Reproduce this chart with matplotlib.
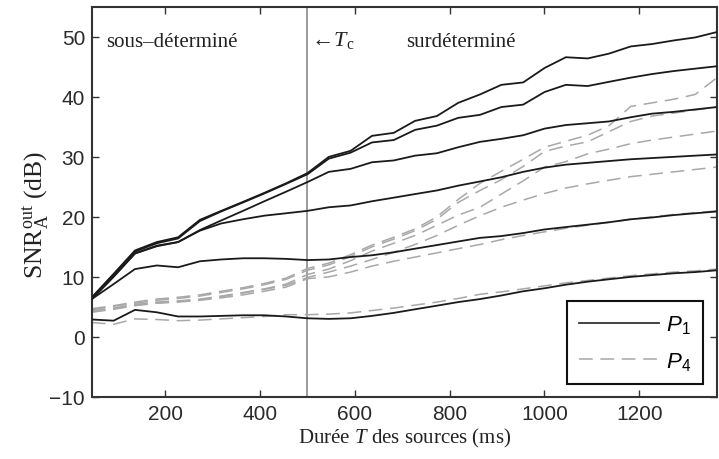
import matplotlib
matplotlib.use("Agg")
import matplotlib.pyplot as plt
from matplotlib.lines import Line2D

plt.rcParams['mathtext.fontset'] = 'custom'
plt.rcParams['mathtext.rm'] = 'Liberation Serif'
plt.rcParams['mathtext.it'] = 'Liberation Serif:italic'
plt.rcParams['mathtext.sf'] = 'Liberation Sans'
plt.rcParams['mathtext.bf'] = 'Liberation Sans:italic'

# Durée T des sources (ms)
T = [45, 91, 136, 182, 227, 273, 318, 364, 409, 455, 500, 545, 591, 636, 682,
     727, 773, 818, 864, 909, 955, 1000, 1045, 1091, 1136, 1182, 1227, 1273, 1318, 1364]

# P1 (solid) curves
p1_a = [6.6, 10.5, 14.4, 15.8, 16.6, 19.5, 21.0, 22.5, 24.0, 25.6, 27.3, 30.0, 31.0, 33.5, 34.0,
        36.0, 36.8, 39.0, 40.4, 42.0, 42.4, 44.8, 46.6, 46.4, 47.2, 48.4, 48.8, 49.4, 49.9, 50.8]
p1_b = [6.5, 10.4, 14.2, 15.6, 16.4, 19.3, 20.9, 22.4, 23.9, 25.5, 27.1, 29.7, 30.7, 32.4, 32.8,
        34.5, 35.2, 36.5, 37.0, 38.3, 38.7, 40.8, 42.0, 41.8, 42.5, 43.2, 43.8, 44.3, 44.7, 45.1]
p1_c = [6.3, 10.1, 13.9, 15.2, 15.8, 17.8, 19.4, 21.0, 22.6, 24.2, 25.8, 27.5, 28.0, 29.1, 29.4,
        30.2, 30.6, 31.6, 32.5, 33.0, 33.6, 34.7, 35.3, 35.6, 35.9, 36.6, 37.2, 37.5, 37.9, 38.3]
p1_d = [6.3, 10.0, 13.9, 15.1, 15.8, 17.7, 18.9, 19.6, 20.2, 20.6, 21.0, 21.6, 21.9, 22.6, 23.2,
        23.8, 24.4, 25.2, 25.9, 26.6, 27.5, 28.2, 28.7, 29.0, 29.3, 29.6, 29.8, 30.0, 30.2, 30.4]
p1_e = [6.3, 8.8, 11.3, 11.9, 11.6, 12.6, 12.9, 13.1, 13.1, 13.0, 12.8, 12.9, 13.3, 13.6, 14.1,
        14.7, 15.3, 15.9, 16.5, 16.8, 17.3, 17.9, 18.3, 18.7, 19.1, 19.6, 19.9, 20.3, 20.6, 20.9]
p1_f = [2.9, 2.7, 4.5, 4.1, 3.4, 3.4, 3.5, 3.6, 3.6, 3.4, 3.1, 3.0, 3.1, 3.5, 4.0,
        4.6, 5.2, 5.8, 6.3, 6.9, 7.6, 8.1, 8.7, 9.2, 9.6, 10.0, 10.3, 10.6, 10.8, 11.1]

# P4 (dashed) curves
p4_a = [4.7, 5.2, 5.8, 6.3, 6.6, 7.0, 7.6, 8.2, 8.9, 9.8, 11.4, 12.3, 13.7, 15.3, 16.6,
        18.0, 20.0, 22.9, 25.6, 27.6, 29.6, 31.6, 32.6, 33.6, 35.2, 38.4, 39.0, 39.6, 40.4, 43.2]
p4_b = [4.5, 5.1, 5.6, 6.1, 6.4, 6.8, 7.4, 8.0, 8.7, 9.6, 11.1, 12.0, 13.4, 15.0, 16.3,
        17.7, 19.6, 22.4, 24.4, 26.2, 28.4, 30.9, 31.8, 32.5, 34.2, 35.9, 36.8, 37.3, 37.8, 38.3]
p4_c = [4.3, 4.8, 5.4, 5.8, 6.0, 6.3, 6.8, 7.4, 8.0, 8.8, 10.4, 11.3, 12.7, 14.3, 15.6,
        16.9, 18.6, 20.3, 21.6, 23.8, 26.0, 28.3, 29.2, 30.5, 31.3, 32.2, 32.8, 33.3, 33.8, 34.3]
p4_d = [4.2, 4.7, 5.3, 5.7, 5.9, 6.2, 6.7, 7.3, 7.9, 8.6, 9.9, 10.8, 11.8, 12.9, 14.1,
        15.4, 16.9, 18.6, 20.2, 21.6, 22.8, 23.9, 24.8, 25.5, 26.1, 26.7, 27.1, 27.5, 27.9, 28.3]
p4_e = [4.1, 4.6, 5.2, 5.6, 5.8, 6.1, 6.5, 7.0, 7.6, 8.3, 9.7, 10.0, 10.8, 11.8, 12.6,
        13.3, 14.0, 14.7, 15.4, 16.2, 16.9, 17.5, 18.1, 18.6, 19.1, 19.6, 20.0, 20.4, 20.7, 21.0]
p4_f = [2.4, 2.1, 3.0, 2.9, 2.7, 2.8, 3.0, 3.2, 3.4, 3.7, 3.7, 3.8, 4.0, 4.4, 4.8,
        5.3, 5.8, 6.4, 7.1, 7.5, 8.0, 8.5, 9.0, 9.4, 9.8, 10.2, 10.5, 10.8, 11.0, 11.3]

p1_curves = [p1_a, p1_b, p1_c, p1_d, p1_e, p1_f]
p4_curves = [p4_a, p4_b, p4_c, p4_d, p4_e, p4_f]

T_c = 500
x_ticks = [200, 400, 600, 800, 1000, 1200]
y_ticks = [-10, 0, 10, 20, 30, 40, 50]

fig = plt.figure(figsize=(7.19, 4.60), dpi=100)
ax = fig.add_axes([0.128, 0.135, 0.869, 0.848])

dash_style = (0, (9, 5))
for y in p4_curves:
    ax.plot(T, y, color='#a8a8a8', lw=1.1, linestyle=dash_style, zorder=2)
for y in p1_curves:
    ax.plot(T, y, color='#1a1a1a', lw=1.3, zorder=3)

ax.axvline(T_c, color='#808080', lw=1.1, zorder=1)

ax.set_xlim(45.45, 1363.6)
ax.set_ylim(-10, 55)
ax.set_xticks(x_ticks)
ax.set_yticks(y_ticks)
ax.set_yticklabels(['\u221210' if v < 0 else str(v) for v in y_ticks])
ax.tick_params(direction='in', top=True, right=True, length=5, width=1,
               color='#333333', labelsize=15, labelcolor='#2a2a2a', pad=5)
for lab in ax.get_xticklabels() + ax.get_yticklabels():
    lab.set_fontfamily('Liberation Sans')
for s in ax.spines.values():
    s.set_linewidth(1.5)
    s.set_color('#333333')

serif = 'Liberation Serif'
ax.text(75, 49.3, 'sous\u2013déterminé', fontfamily=serif, fontsize=15,
        va='center', ha='left', color='#222222')
ax.text(T_c + 2, 49.6, r'$\leftarrow\!T_{\mathrm{c}}$', fontsize=16, va='center', ha='left',
        color='#222222')
ax.text(709, 49.3, 'surdéterminé', fontfamily=serif, fontsize=15, va='center',
        ha='left', color='#222222')

ax.set_xlabel(r'Durée $T$ des sources (ms)', fontfamily=serif, fontsize=15,
              color='#222222', labelpad=2)
ax.set_ylabel(r'$\mathrm{SNR}_{\mathrm{A}}^{\mathrm{out}}$ (dB)', fontfamily=serif,
              fontsize=18.5, color='#222222')
ax.yaxis.set_label_coords(-0.066, 0.47)

handles = [Line2D([], [], color='#333333', lw=1.3),
           Line2D([], [], color='#a8a8a8', lw=1.1, linestyle=dash_style)]
leg = ax.legend(handles, [r'$\mathbf{P}_{\mathsf{1}}$', r'$\mathbf{P}_{\mathsf{4}}$'],
                loc='lower right', bbox_to_anchor=(0.978, 0.033), fontsize=16,
                frameon=True, fancybox=False, handlelength=3.6, handletextpad=0.3,
                borderpad=0.55, labelspacing=0.65, borderaxespad=0)
leg.get_frame().set_edgecolor('#111111')
leg.get_frame().set_linewidth(1.5)
leg.get_frame().set_alpha(1)

fig.savefig('out.png', dpi=100)
